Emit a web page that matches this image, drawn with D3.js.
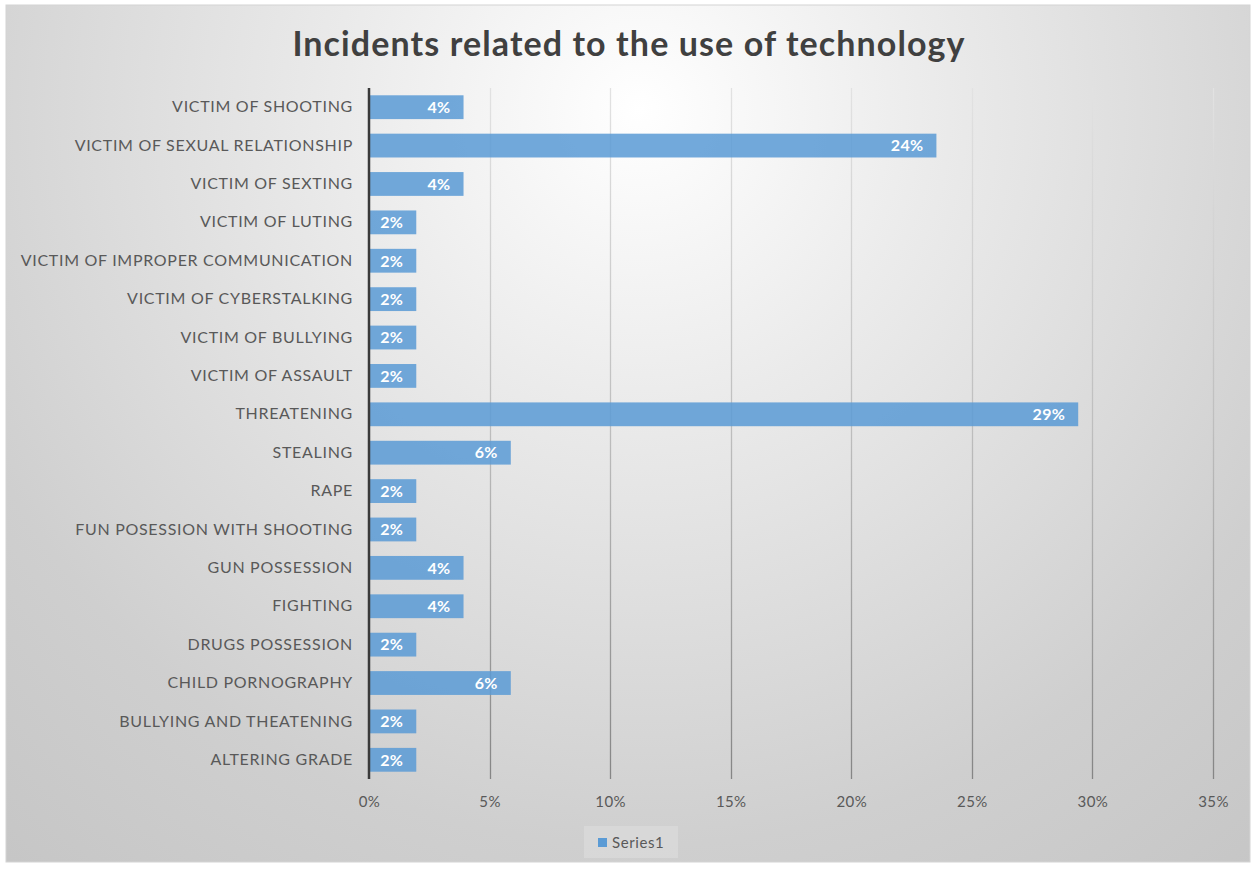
<!DOCTYPE html>
<html>
<head>
<meta charset="utf-8">
<script src="https://cdn.jsdelivr.net/npm/d3@7"></script>
<style>
  html, body { margin: 0; padding: 0; background: #ffffff; }
  svg { display: block; }
  text { font-family: Lato, "Open Sans", sans-serif; }
</style>
</head>
<body>
<svg id="chart" width="1256" height="869"></svg>
<script>
// Incident categories, top to bottom
const categories = [
  "VICTIM OF SHOOTING",
  "VICTIM OF SEXUAL RELATIONSHIP",
  "VICTIM OF SEXTING",
  "VICTIM OF LUTING",
  "VICTIM OF IMPROPER COMMUNICATION",
  "VICTIM OF CYBERSTALKING",
  "VICTIM OF BULLYING",
  "VICTIM OF ASSAULT",
  "THREATENING",
  "STEALING",
  "RAPE",
  "FUN POSESSION WITH SHOOTING",
  "GUN POSSESSION",
  "FIGHTING",
  "DRUGS POSSESSION",
  "CHILD PORNOGRAPHY",
  "BULLYING AND THEATENING",
  "ALTERING GRADE"
];

// Share of incidents per category (Series1)
const series1 = [
  0.0392, 0.2353, 0.0392, 0.0196, 0.0196, 0.0196, 0.0196, 0.0196,
  0.2941, 0.0588, 0.0196, 0.0196, 0.0392, 0.0392, 0.0196, 0.0588,
  0.0196, 0.0196
];

const xTicks = [0, 0.05, 0.10, 0.15, 0.20, 0.25, 0.30, 0.35];
const titleText = "Incidents related to the use of technology";
const seriesName = "Series1";

const svg = d3.select("#chart");

// Chart frame and plot area
const frame = { x: 6, y: 5, w: 1244, h: 857 };
const plot = { left: 369, right: 1213, top: 88, bottom: 779 };

const defs = svg.append("defs");
const bg = defs.append("radialGradient")
  .attr("id", "bgGrad")
  .attr("gradientUnits", "userSpaceOnUse")
  .attr("cx", 640).attr("cy", 110).attr("r", 980);
bg.append("stop").attr("offset", 0).attr("stop-color", "#ffffff");
bg.append("stop").attr("offset", 0.3).attr("stop-color", "#ebebeb");
bg.append("stop").attr("offset", 0.75).attr("stop-color", "#cfcfcf");
bg.append("stop").attr("offset", 1).attr("stop-color", "#c6c6c6");

const gridGrad = defs.append("linearGradient")
  .attr("id", "gridGrad")
  .attr("gradientUnits", "userSpaceOnUse")
  .attr("x1", 0).attr("y1", plot.top).attr("x2", 0).attr("y2", plot.bottom);
gridGrad.append("stop").attr("offset", 0).attr("stop-color", "#e2e2e2");
gridGrad.append("stop").attr("offset", 0.5).attr("stop-color", "#bdbdbd");
gridGrad.append("stop").attr("offset", 1).attr("stop-color", "#858585");

svg.append("rect")
  .attr("x", frame.x).attr("y", frame.y)
  .attr("width", frame.w).attr("height", frame.h)
  .attr("fill", "url(#bgGrad)")
  .attr("stroke", "#d4d4d4").attr("stroke-width", 1);

// Scales
const x = d3.scaleLinear().domain([0, 0.35]).range([plot.left, plot.right]);
const y = d3.scaleBand().domain(categories)
  .range([plot.top, plot.bottom]).paddingInner(0.38).paddingOuter(0.19);

// Vertical gridlines
svg.append("g")
  .selectAll("line")
  .data(xTicks.filter(t => t > 0))
  .join("line")
  .attr("x1", d => Math.round(x(d)) + 0.5).attr("x2", d => Math.round(x(d)) + 0.5)
  .attr("y1", plot.top).attr("y2", plot.bottom)
  .attr("stroke", "url(#gridGrad)").attr("stroke-width", 1.3);

// Bars
svg.append("g")
  .selectAll("rect")
  .data(series1)
  .join("rect")
  .attr("x", x(0))
  .attr("y", (d, i) => y(categories[i]))
  .attr("width", d => x(d) - x(0))
  .attr("height", y.bandwidth())
  .attr("fill", "#5b9bd5")
  .attr("fill-opacity", 0.86);

// Value labels inside bar ends
const fmt = d3.format(".0%");
svg.append("g")
  .selectAll("text")
  .data(series1)
  .join("text")
  .attr("x", d => x(d) - 13)
  .attr("y", (d, i) => y(categories[i]) + y.bandwidth() / 2)
  .attr("dy", "0.36em")
  .attr("text-anchor", "end")
  .attr("fill", "#ffffff")
  .attr("font-size", 16)
  .attr("font-weight", 700)
  .attr("letter-spacing", 0.3)
  .text(d => fmt(d));

// Category axis
const yAxis = svg.append("g")
  .attr("transform", `translate(${plot.left},0)`)
  .call(d3.axisLeft(y).tickSize(0).tickPadding(16));
yAxis.select(".domain").remove();
yAxis.selectAll("text")
  .attr("fill", "#595959")
  .attr("font-size", 16)
  .attr("letter-spacing", 0.7)
  .attr("font-family", "Lato, sans-serif");

svg.append("line")
  .attr("x1", plot.left).attr("x2", plot.left)
  .attr("y1", plot.top).attr("y2", plot.bottom)
  .attr("stroke", "#3a3a3a").attr("stroke-width", 2.5);

// Value axis labels
const xAxis = svg.append("g")
  .attr("transform", `translate(0,${plot.bottom})`)
  .call(d3.axisBottom(x).tickValues(xTicks).tickFormat(d3.format(".0%")).tickSize(0).tickPadding(17));
xAxis.select(".domain").remove();
xAxis.selectAll("text")
  .attr("fill", "#595959")
  .attr("font-size", 15)
  .attr("letter-spacing", 0.4)
  .attr("font-family", "Lato, sans-serif");

// Title
svg.append("text")
  .attr("x", 629).attr("y", 56)
  .attr("text-anchor", "middle")
  .attr("fill", "#404040")
  .attr("font-size", 34)
  .attr("font-weight", 700)
  .attr("letter-spacing", 1.1)
  .text(titleText);

// Legend
const legend = svg.append("g");
legend.append("rect")
  .attr("x", 584).attr("y", 826).attr("width", 94).attr("height", 32)
  .attr("fill", "#dadada").attr("fill-opacity", 0.8);
legend.append("rect")
  .attr("x", 598).attr("y", 838).attr("width", 9).attr("height", 9)
  .attr("fill", "#5b9bd5");
legend.append("text")
  .attr("x", 612).attr("y", 848)
  .attr("fill", "#595959")
  .attr("font-size", 15)
  .attr("letter-spacing", 0.6)
  .text(seriesName);
</script>
</body>
</html>
